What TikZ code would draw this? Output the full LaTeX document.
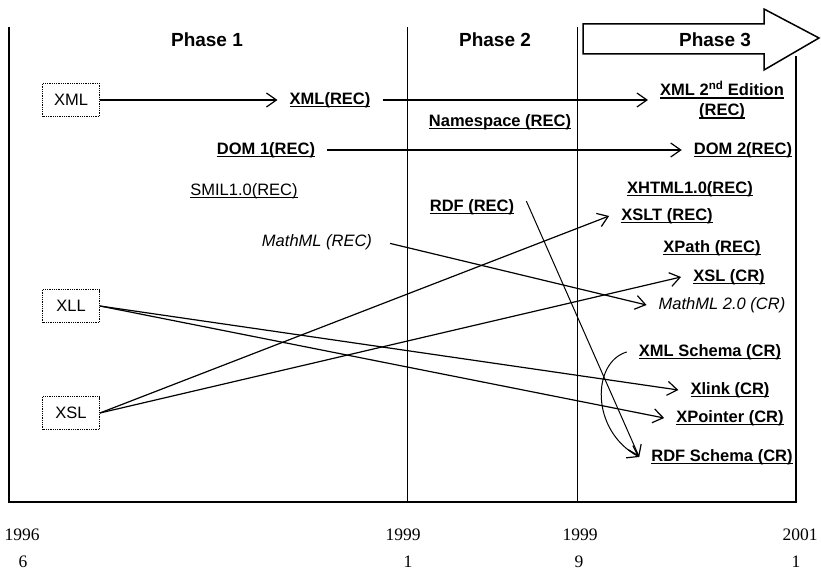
\documentclass[tikz,border=0pt]{standalone}
\usepackage{fontspec}
\setmainfont{Liberation Sans}
\newfontfamily\yearfont{Liberation Serif}
\usetikzlibrary{arrows.meta}
\newcommand{\ulined}[1]{\setbox0=\hbox{#1}\rlap{\rule[-3bp]{\wd0}{1.1bp}}\box0}
\tikzset{
  frame/.style = {line width = 1.5bp},
  divider/.style = {line width = 1bp},
  phase/.style = {font = \fontsize{19bp}{22bp}\selectfont\bfseries},
  spec/.style = {font = \fontsize{16.5bp}{19bp}\selectfont\bfseries, inner xsep = 12bp, inner ysep = 2bp},
  plainspec/.style = {spec, font = \fontsize{16.5bp}{19bp}\selectfont},
  draftspec/.style = {spec, font = \fontsize{16.5bp}{19bp}\selectfont\itshape},
  wg/.style = {draw, densely dotted, line width = .8bp, font = \fontsize{16.5bp}{19bp}\selectfont,
    minimum width = 57bp, minimum height = 33bp, inner sep = 0pt},
  year/.style = {font = \fontsize{17.5bp}{20bp}\selectfont\yearfont},
  arr/.style = {line width = 1.2bp, -{Straight Barb[length = 10bp, width = 14bp, line width = 1.2bp]}}
}
\begin{document}
\begin{tikzpicture}[x = 1bp, y = -1bp]
\useasboundingbox (0,0) rectangle (821,571);
% Frame
\draw[frame] (9,27) -- (9,502) -- (796,502) -- (796,56);
\draw[divider] (407,27) -- (407,502);
\draw[divider] (577,27) -- (577,502);
% Phase 3 arrow
\draw[frame, fill = white] (583,24) -- (764,24) -- (764,9) -- (819,38) -- (764,70) -- (764,54) -- (583,54) -- cycle;
% Phases
\node[phase] (phaseone) at (207,40) {Phase 1};
\node[phase] (phasetwo) at (495,40) {Phase 2};
\node[phase] (phasethree) at (715,40) {Phase 3};
% Working groups
\node[wg] (xmlbox) at (71,100) {XML};
\node[wg] (xllbox) at (71,306) {XLL};
\node[wg] (xslbox) at (71,413) {XSL};
% Specifications
\node[spec] (xmlrec) at (330,100) {\ulined{XML(REC)}};
\node[spec, align = center] (xmlsecond) at (722,100) {\ulined{XML 2\textsuperscript{nd} Edition}\\[1bp]\ulined{(REC)}};
\node[spec] (nsrec) at (500,122) {\ulined{Namespace (REC)}};
\node[spec] (domone) at (266,150) {\ulined{DOM 1(REC)}};
\node[spec] (domtwo) at (743,150) {\ulined{DOM 2(REC)}};
\node[plainspec] (smil) at (244,191) {\ulined{SMIL1.0(REC)}};
\node[spec] (xhtml) at (690,189) {\ulined{XHTML1.0(REC)}};
\node[spec] (rdfrec) at (472,207) {\ulined{RDF (REC)}};
\node[spec] (xsltrec) at (667,216) {\ulined{XSLT (REC)}};
\node[draftspec] (mathrec) at (317,242) {MathML (REC)};
\node[spec] (xpathrec) at (712,248) {\ulined{XPath (REC)}};
\node[spec] (xslcr) at (729,277) {\ulined{XSL (CR)}};
\node[draftspec] (mathcr) at (722,305) {MathML 2.0 (CR)};
\node[spec] (schemacr) at (710,352) {\ulined{XML Schema (CR)}};
\node[spec] (xlinkcr) at (730,390) {\ulined{Xlink (CR)}};
\node[spec] (xptrcr) at (730,418) {\ulined{XPointer (CR)}};
\node[spec] (rdfschema) at (722,457) {\ulined{RDF Schema (CR)}};
% Transitions
\draw[arr] (xmlbox.east) -- (xmlrec.west);
\draw[arr] (xmlrec.east) -- (xmlrec.east -| xmlsecond.west);
\draw[arr] (domone.east) -- (domone.east -| domtwo.west);
\draw[arr, shorten <= 6bp] (mathrec.east) -- (mathcr.west);
\draw[arr] (xslbox.east) -- (xsltrec.west);
\draw[arr] (xslbox.east) -- (xslcr.west);
\draw[arr] (xllbox.east) -- (xlinkcr.west);
\draw[arr] (xllbox.east) -- (xptrcr.west);
\draw[arr, line width = 1bp] (rdfrec.north east) ++(0,4) -- (rdfschema.west);
\draw[arr, line width = 1bp] (schemacr.west) .. controls (592,362) and (590,430) .. (rdfschema.west);
% Dates
\node[year] (startyear) at (22,535) {1996};
\node[year] (startmonth) at (23,562) {6};
\node[year] (twoyear) at (403,535) {1999};
\node[year] (twomonth) at (408,562) {1};
\node[year] (threeyear) at (580,535) {1999};
\node[year] (threemonth) at (579,562) {9};
\node[year] (endyear) at (800,535) {2001};
\node[year] (endmonth) at (796,562) {1};
\end{tikzpicture}
\end{document}
